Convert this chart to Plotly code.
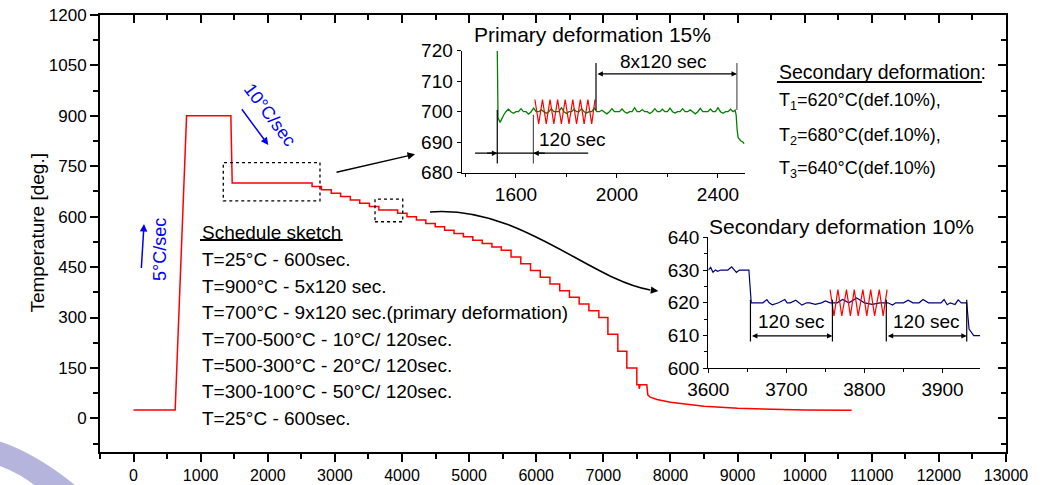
import plotly.graph_objects as go

FONT = "Liberation Sans, Arial, Helvetica, sans-serif"

# ---------------- data ----------------
# main schedule curve: heating / holding part
heat_t = [0, 620, 790, 1450, 1470, 2660]
heat_T = [25, 25, 900, 900, 700, 700]
# cooling staircase: start time of each level and level temperature
step_t = [2660, 2800, 2945, 3085, 3230, 3370, 3515, 3655, 3935, 4075, 4215, 4355,
          4495, 4635, 4775, 4915, 5055, 5195, 5340, 5480, 5625, 5770, 5915, 6060,
          6205, 6350, 6495, 6640, 6785, 6933, 7068, 7216, 7350, 7499]
step_T = [690, 680, 670, 660, 650, 640, 630, 620, 610, 600, 590, 580,
          570, 560, 550, 540, 530, 520, 510, 500, 480, 460, 440, 420,
          400, 380, 360, 340, 320, 300, 250, 200, 150, 100]
# final free cooling
tail_t = [7530, 7535, 7548, 7648, 7662, 7700, 7800, 8000, 8250, 8500, 9000, 9500, 10000, 10700]
tail_T = [100, 88, 100, 100, 70, 63, 56, 48, 41, 36, 30, 27, 25, 24]

# inset 1 : primary deformation (green record)
g_x = [1526, 1526.5, 1529, 1537, 1545, 1552,
       1560, 1570, 1580, 1590, 1600, 1610, 1620, 1630, 1640, 1650,
       1660, 1670, 1680, 1690, 1700, 1710, 1720, 1730, 1740, 1750,
       1760, 1770, 1780, 1790, 1800, 1810, 1820, 1830, 1840, 1850,
       1860, 1870, 1880, 1890, 1900, 1910, 1920, 1930, 1940, 1950,
       1960, 1970, 1980, 1990, 2000, 2010, 2020, 2030, 2040, 2050,
       2060, 2070, 2080, 2090, 2100, 2110, 2120, 2130, 2140, 2150,
       2160, 2170, 2180, 2190, 2200, 2210, 2220, 2230, 2240, 2250,
       2260, 2270, 2280, 2290, 2300, 2310, 2320, 2330, 2340, 2350,
       2360, 2370, 2380, 2390, 2400, 2410, 2420, 2430, 2440, 2450,
       2460, 2468, 2472, 2476, 2480, 2490, 2500, 2503]
g_y = [720, 700, 698, 696.5, 698, 699,
       700, 700.8, 700, 699.5, 700, 700, 701, 700, 700, 699.2,
       700, 701.2, 700, 700, 700.6, 700, 699.5, 700, 701, 700,
       700, 700, 701.3, 700, 699.4, 700, 700, 700.8, 700, 700,
       701, 700, 699.6, 700, 700, 701.2, 700, 700, 700.5, 700,
       699.3, 700, 701, 700, 700, 700, 700.9, 700, 699.5, 700,
       700, 701.3, 700, 700, 700.7, 700, 700, 699.4, 700, 701,
       700, 700, 700.8, 700, 700, 701.2, 700, 699.6, 700, 700,
       701, 700, 700, 700.6, 700, 699.3, 700, 701.1, 700, 700,
       700, 700.9, 700, 700, 701.3, 700, 699.5, 700, 700, 700.8,
       700, 700.5, 699, 694, 691.5, 690.5, 690, 689.5]
# deformation zig-zag (red)
z1_x = [1675, 1690, 1705, 1720, 1735, 1750, 1765, 1780, 1795, 1810, 1825, 1840, 1855,
        1870, 1885, 1900, 1913]
z1_y = [704, 696, 704, 696, 704, 696, 704, 696, 704, 696, 704, 696, 704, 696, 704, 696, 704]

# inset 2 : secondary deformation (blue record)
b_x = [3600, 3603, 3606, 3609, 3612, 3616, 3620, 3625, 3630, 3633, 3636, 3640, 3645, 3650,
       3652, 3655, 3660, 3670, 3675, 3678, 3682, 3690, 3698, 3701, 3705, 3712, 3720, 3726,
       3730, 3737, 3745, 3750, 3756, 3765, 3772, 3780, 3790, 3800, 3810, 3820, 3830, 3836,
       3840, 3850, 3856, 3862, 3870, 3875, 3882, 3890, 3898, 3902, 3906, 3910, 3916, 3920,
       3924, 3928, 3931, 3934, 3937, 3940, 3948]
b_y = [630, 630.8, 629.3, 630, 629.6, 630, 630, 630, 631, 630, 629.3, 630, 630, 630,
       630, 620, 620, 620, 621, 620, 619.4, 620, 621, 620, 620, 620.8, 619.3, 620,
       620, 619.5, 620, 620.6, 620, 620, 621, 620, 621.5, 620, 619.5, 620, 620, 619.3,
       620, 620, 620.8, 620, 620, 621, 620, 620, 620, 621, 619.4, 620, 619.5, 620.9,
       620, 620, 620, 612, 611, 610, 610]
z2_x = [3756, 3761, 3766, 3771, 3777, 3782, 3787, 3792, 3798, 3803, 3808, 3813, 3819, 3824, 3829]
z2_y = [624, 616, 624, 616, 624, 616, 624, 616, 624, 616, 624, 616, 624, 616, 624]

main_xticks = [0, 1000, 2000, 3000, 4000, 5000, 6000, 7000, 8000, 9000, 10000, 11000, 12000, 13000]
main_xlabels = [str(v) for v in main_xticks]
main_yticks = [0, 150, 300, 450, 600, 750, 900, 1050, 1200]
main_ylabels = [str(v) for v in main_yticks]

schedule_lines = ["T=25°C - 600sec.", "T=900°C - 5x120 sec.",
                  "T=700°C - 9x120 sec.(primary deformation)",
                  "T=700-500°C - 10°C/ 120sec.", "T=500-300°C - 20°C/ 120sec.",
                  "T=300-100°C - 50°C/ 120sec.", "T=25°C - 600sec."]
secondary_lines = ["T<sub>1</sub>=620°C(def.10%),", "T<sub>2</sub>=680°C(def.10%),",
                   "T<sub>3</sub>=640°C(def.10%)"]

# ---------------- build main polyline from the data ----------------
cx, cy = list(heat_t), list(heat_T)
prev = heat_T[-1]
for t, T in zip(step_t, step_T):
    cx += [t, t]
    cy += [prev, T]
    prev = T
cx += tail_t
cy += tail_T

RED = "#ff0000"
fig = go.Figure()
fig.add_trace(go.Scatter(x=cx, y=cy, mode="lines", line=dict(color=RED, width=1.5),
                         xaxis="x", yaxis="y", showlegend=False))
# empty traces that activate the mirror axes (top / right, ticks inside)
fig.add_trace(go.Scatter(x=[None], y=[None], xaxis="x3", yaxis="y", showlegend=False))
fig.add_trace(go.Scatter(x=[None], y=[None], xaxis="x", yaxis="y3", showlegend=False))
fig.add_trace(go.Scatter(x=g_x, y=g_y, mode="lines", line=dict(color="#008000", width=1.3),
                         xaxis="x2", yaxis="y2", showlegend=False))
fig.add_trace(go.Scatter(x=z1_x, y=z1_y, mode="lines", line=dict(color=RED, width=1.2),
                         xaxis="x2", yaxis="y2", showlegend=False))
fig.add_trace(go.Scatter(x=b_x, y=b_y, mode="lines", line=dict(color="#000080", width=1.2),
                         xaxis="x4", yaxis="y4", showlegend=False))
fig.add_trace(go.Scatter(x=z2_x, y=z2_y, mode="lines", line=dict(color=RED, width=1.2),
                         xaxis="x4", yaxis="y4", showlegend=False))

base = dict(showgrid=False, zeroline=False, showline=True, linecolor="black",
            tickcolor="black", automargin=False, ticklabeloverflow="allow")
xfont = dict(family=FONT, size=16, color="black")
yfont = dict(family=FONT, size=17, color="black")
ifont = dict(family=FONT, size=19, color="black")

layout = dict(
    template="none",
    width=1045, height=485,
    margin=dict(l=100, r=39, t=15, b=33, pad=0),
    paper_bgcolor="white", plot_bgcolor="white",
    font=dict(family=FONT, color="black"),
    xaxis=dict(**base, domain=[0, 1], range=[-500, 13000], anchor="y", tickfont=xfont,
               tickvals=main_xticks, ticktext=main_xlabels, ticks="outside", ticklen=8,
               tickwidth=1.5, linewidth=2,
               minor=dict(dtick=500, tick0=0, ticks="outside", ticklen=5, tickwidth=1.5,
                          tickcolor="black")),
    yaxis=dict(**base, domain=[0, 1], range=[-100, 1200], anchor="x", tickfont=yfont,
               tickvals=main_yticks, ticktext=main_ylabels, ticks="outside", ticklen=8,
               tickwidth=1.5, linewidth=2,
               minor=dict(dtick=75, tick0=0, ticks="outside", ticklen=5, tickwidth=1.5,
                          tickcolor="black")),
    xaxis3=dict(**base, linewidth=2, overlaying="x", side="top", anchor="y",
                range=[-500, 13000], tickvals=main_xticks, ticks="inside", ticklen=8,
                tickwidth=1.5, showticklabels=False,
                minor=dict(dtick=500, tick0=0, ticks="inside", ticklen=5, tickwidth=1.5,
                           tickcolor="black")),
    yaxis3=dict(**base, linewidth=2, overlaying="y", side="right", anchor="x",
                range=[-100, 1200], tickvals=main_yticks, ticks="inside", ticklen=8,
                tickwidth=1.5, showticklabels=False,
                minor=dict(dtick=75, tick0=0, ticks="inside", ticklen=5, tickwidth=1.5,
                           tickcolor="black")),
    xaxis2=dict(**base, linewidth=1.2, domain=[0.3992, 0.7119], range=[1385, 2507],
                anchor="y2", tick0=1600, dtick=400, ticks="outside", ticklen=4, tickfont=ifont,
                minor=dict(dtick=200, tick0=1600, ticks="outside", ticklen=3, tickcolor="black")),
    yaxis2=dict(**base, linewidth=1.2, domain=[0.6391, 0.9183], range=[680, 720],
                anchor="x2", tick0=680, dtick=10, ticks="outside", ticklen=4, tickfont=ifont),
    xaxis4=dict(**base, linewidth=1.2, domain=[0.6714, 0.9713], range=[3600, 3948],
                anchor="y4", tick0=3600, dtick=100, ticks="outside", ticklen=4, tickfont=ifont,
                minor=dict(dtick=50, tick0=3600, ticks="outside", ticklen=3, tickcolor="black")),
    yaxis4=dict(**base, linewidth=1.2, domain=[0.1915, 0.4913], range=[600, 640],
                anchor="x4", tick0=600, dtick=10, ticks="outside", ticklen=4, tickfont=ifont,
                minor=dict(dtick=5, tick0=600, ticks="outside", ticklen=3, tickcolor="black")),
)
fig.update_layout(**layout)

ann = []
shapes = []

def text(x, y, s, size, xref="paper", yref="paper", xanchor="left", yanchor="middle",
         color="black", angle=0):
    ann.append(dict(x=x, y=y, xref=xref, yref=yref, text=s, showarrow=False,
                    xanchor=xanchor, yanchor=yanchor, textangle=angle,
                    font=dict(family=FONT, size=size, color=color)))

def arrow(x, y, ax, ay, xref, yref, color="black", width=1.2, head=2, size=1.0, side="end"):
    ann.append(dict(x=x, y=y, ax=ax, ay=ay, xref=xref, yref=yref, axref=xref, ayref=yref,
                    text="", showarrow=True, arrowhead=head, arrowsize=size,
                    arrowwidth=width, arrowcolor=color, arrowside=side, startarrowhead=head,
                    startarrowsize=size))

def line(x0, y0, x1, y1, xref, yref, color="black", width=1.2, dash="solid"):
    shapes.append(dict(type="line", x0=x0, y0=y0, x1=x1, y1=y1, xref=xref, yref=yref,
                       line=dict(color=color, width=width, dash=dash)))

# y-axis title
text(-0.0695, 0.5, "Temperature [deg.]", 19, xanchor="center", angle=-90)

# schedule sketch
text(0.1104, 0.5034, "Schedule sketch", 19)
line(0.1104, (452 - 240) / 437, 0.2679, (452 - 240) / 437, "paper", "paper", width=2)
ys = [0.4394, 0.3783, 0.3181, 0.2570, 0.1968, 0.1373, 0.0778]
for s, yy in zip(schedule_lines, ys):
    text(0.1104, yy, s, 19)

# secondary deformation list
text(0.7472, (452 - 72.4) / 437, "Secondary deformation:", 19.5)
line(0.7472, (452 - 82) / 437, 0.9735, (452 - 82) / 437, "paper", "paper", width=2)
for s, py in zip(secondary_lines, [101, 136.5, 169]):
    text(0.7472, (452 - py) / 437, s, 18)

# blue rate labels and arrows
text(394, 501, "5°C/sec", 18, xref="x", yref="y", xanchor="center", color="#0000ff", angle=-90)
arrow(156, 578, 115, 443, "x", "y", color="#0000ff", width=1.5)
text(2033, 902, "10°C/sec", 18, xref="x", yref="y", xanchor="center", color="#0000ff", angle=53)
arrow(2008, 813, 1597, 924, "x", "y", color="#0000ff", width=1.5)

# dotted boxes on main curve
shapes.append(dict(type="rect", xref="x", yref="y", x0=1337, x1=2778, y0=647, y1=761,
                   line=dict(color="black", width=1.3, dash="dot")))
shapes.append(dict(type="rect", xref="x", yref="y", x0=3598, x1=4011, y0=585, y1=652,
                   line=dict(color="black", width=1.3, dash="dot")))
# straight arrow to inset 1
arrow(4194, 786, 3002, 731, "x", "y", width=1.5)
# curved arrow to inset 2
shapes.append(dict(type="path", xref="x", yref="y",
                   path="M 4417,614 C 5758,635 6801,412 7700,382",
                   line=dict(color="black", width=1.5)))
arrow(7819, 379, 7690, 382, "x", "y", width=1.5)

# inset titles
text((592 - 100) / 906, (452 - 35) / 437, "Primary deformation 15%", 21, xanchor="center")
text((841.7 - 100) / 906, (452 - 226) / 437, "Secondary deformation 10%", 21, xanchor="center")

# inset 1 dimension marks
line(1526, 683, 1526, 700.6, "x2", "y2")
line(1669, 683, 1669, 699, "x2", "y2", color="#555555")
line(1438, 686.4, 1886, 686.4, "x2", "y2")
arrow(1526, 686.4, 1480, 686.4, "x2", "y2", width=1.2, head=2, size=0.9)
arrow(1669, 686.4, 1720, 686.4, "x2", "y2", width=1.2, head=2, size=0.9)
text(1822, 691, "120 sec", 19, xref="x2", yref="y2", xanchor="center")
line(1917, 700.6, 1917, 716, "x2", "y2")
line(2475, 700.6, 2475, 716, "x2", "y2", color="#555555")
arrow(2475, 712.4, 1917, 712.4, "x2", "y2", width=1.2, head=2, size=0.9, side="end+start")
text(2186, 716.3, "8x120 sec", 19, xref="x2", yref="y2", xanchor="center")

# inset 2 dimension marks
for a, b, cx_ in [(3654, 3759, 3707), (3828, 3931, 3880)]:
    line(a, 608.2, a, 620.9, "x4", "y4")
    line(b, 608.2, b, 620.9, "x4", "y4")
    arrow(b, 609.9, a, 609.9, "x4", "y4", width=1.2, head=2, size=0.9, side="end+start")
    text(cx_, 614.2, "120 sec", 19, xref="x4", yref="y4", xanchor="center")

# decorative lavender swoosh (poster background)
shapes.append(dict(type="path", xref="paper", yref="paper", layer="below",
                   path="M -0.12,0.03 Q -0.075,0.005 -0.025,-0.08 L -0.07,-0.08 Q -0.09,-0.045 -0.12,-0.025 Z",
                   fillcolor="#b4b4dc", line=dict(width=0)))

fig.update_layout(annotations=ann, shapes=shapes)
# remove the browser's default 8 px page margin so the figure fills the window exactly
fig.write_html("out.html", config={"displayModeBar": False},
               post_script="document.body.style.margin='0';document.body.style.overflow='hidden';")
